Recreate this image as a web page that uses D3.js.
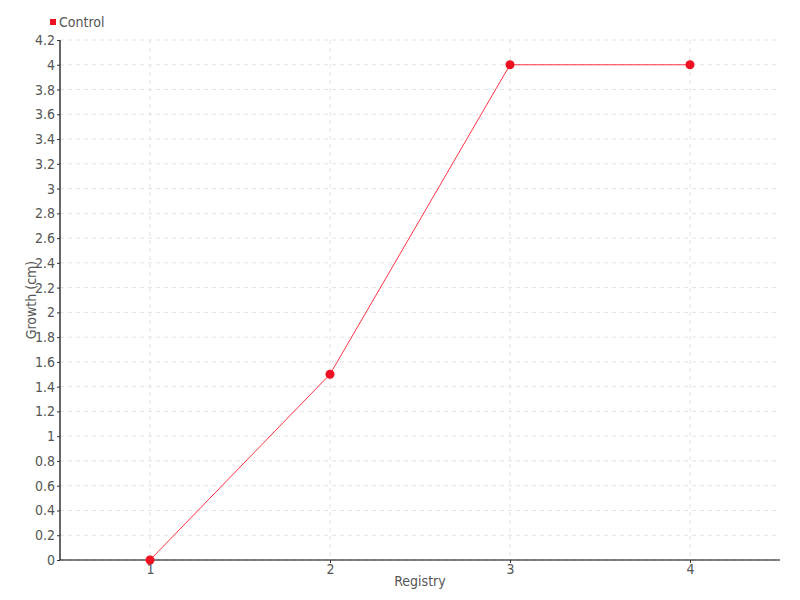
<!DOCTYPE html>
<html><head><meta charset="utf-8">
<script src="https://cdn.jsdelivr.net/npm/d3@7"></script>
<style>
body{margin:0;background:#fff;}
text{font-family:"Liberation Sans Narrow","DejaVu Sans Condensed",sans-serif;}
</style></head>
<body><svg id="c" width="800" height="600"></svg>
<script>
const categories = ["1","2","3","4"];
const values = [0, 1.5, 4, 4];
const yTicks = [0,0.2,0.4,0.6,0.8,1,1.2,1.4,1.6,1.8,2,2.2,2.4,2.6,2.8,3,3.2,3.4,3.6,3.8,4,4.2];
const seriesName = "Control";
const xTitle = "Registry";
const yTitle = "Growth (cm)";

const svg = d3.select("#c");
const m = {l:60, r:20, t:40, b:40};
const W = 800, H = 600;
const x = d3.scalePoint().domain(categories).range([m.l, W-m.r]).padding(0.5);
const y = d3.scaleLinear().domain([0,4.2]).range([H-m.b, m.t]);
const color = "#ee1122";

// grid
svg.append("g").selectAll("line").data(yTicks).join("line")
  .attr("x1", m.l).attr("x2", W-m.r).attr("y1", d=>y(d)).attr("y2", d=>y(d))
  .attr("stroke","#e3e3e3").attr("stroke-dasharray","4,4");
svg.append("g").selectAll("line").data(categories).join("line")
  .attr("x1", d=>x(d)).attr("x2", d=>x(d)).attr("y1", m.t).attr("y2", H-m.b)
  .attr("stroke","#e3e3e3").attr("stroke-dasharray","4,4");

// axes
const yAxis = svg.append("g").attr("transform",`translate(${m.l},0)`)
  .call(d3.axisLeft(y).tickValues(yTicks).tickSize(3).tickPadding(2).tickFormat(d3.format("")));
const xAxis = svg.append("g").attr("transform",`translate(0,${H-m.b})`)
  .call(d3.axisBottom(x).tickSize(3).tickPadding(1).tickSizeOuter(0));
[yAxis,xAxis].forEach(a=>{
  a.select(".domain").attr("stroke","#000").attr("stroke-width",1.2);
  a.selectAll(".tick line").attr("stroke","#333");
  a.selectAll("text").attr("fill","#555").style("font-size","14px");
});
xAxis.select(".domain").attr("d",`M${m.l},0H${W-m.r}`);
yAxis.select(".domain").attr("d",`M0,${y(4.2)}V${H-m.b}`);

// line
const data = categories.map((c,i)=>({c, v:values[i]}));
svg.append("path").datum(data)
  .attr("fill","none").attr("stroke","#ff3344").attr("stroke-width",1)
  .attr("d", d3.line().x(d=>x(d.c)).y(d=>y(d.v)));
svg.append("g").selectAll("circle").data(data).join("circle")
  .attr("cx",d=>x(d.c)).attr("cy",d=>y(d.v)).attr("r",4.5).attr("fill",color);

// legend
svg.append("rect").attr("x",50).attr("y",19).attr("width",6).attr("height",6).attr("fill",color);
svg.append("text").attr("x",59).attr("y",27).text(seriesName).attr("fill","#555").style("font-size","14px");

// titles
svg.append("text").attr("x",(m.l+W-m.r)/2).attr("y",586).attr("text-anchor","middle")
  .attr("fill","#555").style("font-size","14px").text(xTitle);
svg.append("text").attr("transform",`translate(36,${(m.t+H-m.b)/2}) rotate(-90)`)
  .attr("text-anchor","middle").attr("fill","#555").style("font-size","14px").text(yTitle);
</script></body></html>
